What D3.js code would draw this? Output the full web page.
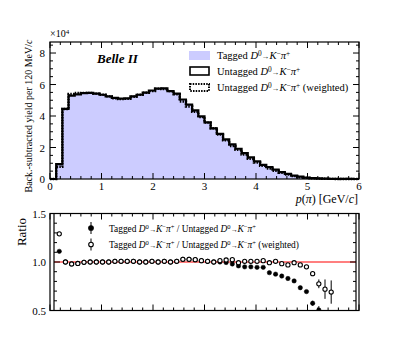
<!DOCTYPE html>
<html><head><meta charset="utf-8">
<script src="https://cdn.jsdelivr.net/npm/d3@7"></script>
<style>
body{margin:0;background:#fff}
text{font-family:"Liberation Serif","Times New Roman",serif;fill:#000}
</style>
</head><body>
<svg id="c" width="399" height="349"></svg>
<script>
// ---------- data ----------
const binLowEdges = [0,0.12,0.24,0.36,0.48,0.6,0.72,0.84,0.96,1.08,1.2,1.32,1.44,1.56,1.68,1.8,1.92,2.04,2.16,2.28,
  2.4,2.52,2.64,2.76,2.88,3.0,3.12,3.24,3.36,3.48,3.6,3.72,3.84,3.96,4.08,4.2,4.32,4.44,4.56,4.68,
  4.8,4.92,5.04,5.16,5.28,5.4,5.52,5.64,5.76,5.88];
const binWidth = 0.12;
// yields in units of 10^4
const tagged = [0,1.0,4.45,5.3,5.38,5.45,5.47,5.42,5.35,5.25,5.15,5.1,5.12,5.25,5.35,5.48,5.62,5.74,5.76,5.58,
  5.42,5.05,4.72,4.36,3.98,3.6,3.22,2.86,2.5,2.16,1.85,1.56,1.3,1.06,0.85,0.67,0.52,0.38,0.27,0.18,
  0.11,0.065,0.035,0.018,0.009,0.005,0.003,0.002,0.001,0];
const untagged = [0,0.95,4.45,5.3,5.38,5.45,5.47,5.42,5.35,5.25,5.15,5.1,5.12,5.25,5.35,5.48,5.62,5.74,5.76,5.58,
  5.42,5.05,4.72,4.36,3.98,3.6,3.22,2.86,2.52,2.2,1.92,1.64,1.37,1.12,0.9,0.75,0.59,0.44,0.33,0.22,
  0.15,0.09,0.06,0.035,0.02,0.012,0.007,0.004,0.002,0];
const untaggedWeighted = [0,0.78,4.45,5.4,5.46,5.47,5.47,5.42,5.35,5.25,5.12,5.07,5.09,5.22,5.35,5.48,5.58,5.74,5.72,5.58,
  5.38,4.92,4.6,4.26,3.93,3.58,3.22,2.82,2.45,2.1,1.86,1.55,1.28,1.05,0.84,0.67,0.52,0.39,0.28,0.18,
  0.115,0.07,0.04,0.023,0.012,0.007,0.004,0.002,0.001,0];
const ratioTagged = [null,1.11,1.0,0.98,0.985,0.997,1.0,1.0,1.0,1.0,1.007,1.007,1.007,1.007,1.0,1.0,1.007,1.0,1.007,1.0,
  1.007,1.028,1.028,1.024,1.014,1.007,1.0,1.0,0.995,0.98,0.96,0.95,0.95,0.945,0.945,0.89,0.875,0.855,0.83,0.805,
  0.735,0.695,0.575,0.505,null,null,null,null,null,null];
const ratioTaggedErr = [0,0.01,0.004,0.004,0.004,0.004,0.004,0.004,0.004,0.004,0.004,0.004,0.004,0.004,0.004,0.004,0.004,0.004,0.004,0.004,
  0.004,0.004,0.004,0.004,0.004,0.004,0.004,0.004,0.004,0.005,0.005,0.005,0.006,0.006,0.007,0.008,0.008,0.009,0.01,0.01,
  0.012,0.016,0.025,0.04,0,0,0,0,0,0];
const ratioWeighted = [null,1.29,1.0,0.98,0.985,0.997,1.0,1.0,1.0,1.0,1.007,1.007,1.007,1.007,1.0,1.0,1.007,1.0,1.007,1.0,
  1.007,1.028,1.028,1.024,1.014,1.007,1.0,1.014,1.021,1.024,0.993,1.007,1.007,1.007,1.014,0.993,1.007,0.983,0.97,0.993,
  0.97,0.95,0.88,0.775,0.72,0.69,null,null,null,null];
const ratioWeightedErr = [0,0.01,0.004,0.004,0.004,0.004,0.004,0.004,0.004,0.004,0.004,0.004,0.004,0.004,0.004,0.004,0.004,0.004,0.004,0.004,
  0.004,0.004,0.004,0.004,0.004,0.004,0.004,0.004,0.004,0.005,0.005,0.005,0.006,0.006,0.007,0.008,0.008,0.009,0.01,0.01,
  0.012,0.018,0.025,0.045,0.1,0.12,0,0,0,0];
const xTicks = [0,1,2,3,4,5,6];
const yTicksTop = [0,2,4,6,8];
const yTicksRatio = ["0.5","1.0","1.5"];
const legendTop = ["Tagged", "Untagged", "Untagged"];

// ---------- helpers ----------
const svg = d3.select("#c");
function rich(t, parts){
  let prevSup = false;
  parts.forEach(([s,k])=>{
    const sup = k==="s";
    const ts = t.append("tspan").text(s);
    if(k==="i") ts.attr("font-style","italic");
    if(k==="a") ts.attr("font-size","75%");
    if(sup){ ts.attr("font-size","70%"); if(!prevSup) ts.attr("dy","-0.45em"); }
    else if(prevSup){ ts.attr("dy", (0.45*0.7/(k==="a"?0.75:1))+"em"); }
    prevSup = sup;
  });
}
const decay = [["D","i"],["0","s"],["\u2192","a"],["K","i"],["\u2212","s"],["\u03c0","i"],["+","s"]];

// ---------- scales ----------
const x = d3.scaleLinear().domain([0,6]).range([50,359]);
const yT = d3.scaleLinear().domain([0,8.7]).range([179,42]);
const yR = d3.scaleLinear().domain([0.5,1.5]).range([310.5,213.5]);

// ---------- top panel ----------
const gTop = svg.append("g");
function stepPts(vals){
  const pts=[];
  vals.forEach((v,i)=>{ pts.push([binLowEdges[i],v]); pts.push([binLowEdges[i]+binWidth,v]); });
  return pts;
}
const area = d3.area().x(d=>x(d[0])).y0(yT(0)).y1(d=>yT(d[1]));
const line = d3.line().x(d=>x(d[0])).y(d=>yT(d[1]));
gTop.append("path").attr("d",area(stepPts(tagged))).attr("fill","#ccccff");
gTop.append("path").attr("d",line(stepPts(untagged))).attr("fill","none").attr("stroke","#000").attr("stroke-width",2.2);
gTop.append("path").attr("d",line(stepPts(untaggedWeighted))).attr("fill","none").attr("stroke","#000").attr("stroke-width",2.4).attr("stroke-dasharray","1.5,1.2");

gTop.append("rect").attr("x",50).attr("y",42).attr("width",309).attr("height",137).attr("fill","none").attr("stroke","#000").attr("stroke-width",1.2);
const minorX = d3.range(0,6.001,0.2);
minorX.forEach(v=>{
  const major = Math.abs(v-Math.round(v))<1e-6;
  const L = major?6:3;
  gTop.append("line").attr("x1",x(v)).attr("x2",x(v)).attr("y1",179).attr("y2",179-L).attr("stroke","#000");
  gTop.append("line").attr("x1",x(v)).attr("x2",x(v)).attr("y1",42).attr("y2",42+L).attr("stroke","#000");
});
d3.range(0,8.7,0.5).forEach(v=>{
  const major = Math.abs(v/2-Math.round(v/2))<1e-6;
  const L = major?6:3;
  gTop.append("line").attr("x1",50).attr("x2",50+L).attr("y1",yT(v)).attr("y2",yT(v)).attr("stroke","#000");
  gTop.append("line").attr("x1",359).attr("x2",359-L).attr("y1",yT(v)).attr("y2",yT(v)).attr("stroke","#000");
});
xTicks.forEach(v=>{
  gTop.append("text").attr("x",x(v)).attr("y",190).attr("text-anchor","middle").attr("font-size",11).text(v);
});
yTicksTop.forEach(v=>{
  gTop.append("text").attr("x",45).attr("y",yT(v)+4).attr("text-anchor","end").attr("font-size",11).text(v);
});
const e = gTop.append("text").attr("x",50).attr("y",37).attr("font-size",10);
e.append("tspan").text("\u00d710");
e.append("tspan").text("4").attr("font-size","70%").attr("dy","-0.45em");
const xt = gTop.append("text").attr("x",358).attr("y",203).attr("text-anchor","end").attr("font-size",12);
rich(xt,[["p","i"],["(","n"],["\u03c0","i"],[") [GeV/","n"],["c","i"],["]","n"]]);
const yt = gTop.append("text").attr("transform","translate(32,116) rotate(-90)").attr("text-anchor","middle").attr("font-size",10);
rich(yt,[["Back.-subtracted yield per 120 MeV/","n"],["c","i"]]);
gTop.append("text").attr("x",97).attr("y",63).attr("font-size",13).attr("font-weight","bold").attr("font-style","italic").text("Belle II");

gTop.append("rect").attr("x",189).attr("y",51).attr("width",21).attr("height",9).attr("fill","#ccccff");
gTop.append("rect").attr("x",190).attr("y",67).attr("width",19).attr("height",8).attr("fill","none").attr("stroke","#000").attr("stroke-width",1.6);
gTop.append("rect").attr("x",190).attr("y",84).attr("width",19).attr("height",7).attr("fill","none").attr("stroke","#000").attr("stroke-width",2).attr("stroke-dasharray","1.5,1.2");
const lt1 = gTop.append("text").attr("x",217).attr("y",59).attr("font-size",10.5);
rich(lt1,[[legendTop[0]+" ","n"]].concat(decay));
const lt2 = gTop.append("text").attr("x",217).attr("y",75).attr("font-size",10.5);
rich(lt2,[[legendTop[1]+" ","n"]].concat(decay));
const lt3 = gTop.append("text").attr("x",217).attr("y",91).attr("font-size",10.5);
rich(lt3,[[legendTop[2]+" ","n"]].concat(decay).concat([[" (weighted)","n"]]));

// ---------- ratio panel ----------
const bot = svg.append("g");
bot.append("defs").append("clipPath").attr("id","rc").append("rect").attr("x",54).attr("y",213.5).attr("width",302).attr("height",97);
bot.append("line").attr("x1",54).attr("x2",356).attr("y1",yR(1)).attr("y2",yR(1)).attr("stroke","#ff0000").attr("stroke-width",1.2);

function drawPts(vals, errs, filled){
  const g = bot.append("g").attr("clip-path","url(#rc)");
  vals.forEach((v,i)=>{
    if(v===null) return;
    const cx = x(binLowEdges[i]+binWidth/2);
    if(errs[i]>0.006){
      g.append("line").attr("x1",cx).attr("x2",cx).attr("y1",yR(v-errs[i])).attr("y2",yR(v+errs[i])).attr("stroke","#000").attr("stroke-width",1);
    }
    g.append("circle").attr("cx",cx).attr("cy",yR(v)).attr("r",filled?2.2:2.1)
      .attr("fill",filled?"#000":"#fff").attr("stroke","#000").attr("stroke-width",filled?0.5:1.1);
  });
}
drawPts(ratioTagged, ratioTaggedErr, true);
drawPts(ratioWeighted, ratioWeightedErr, false);

bot.append("rect").attr("x",50).attr("y",213.5).attr("width",309).attr("height",97).attr("fill","none").attr("stroke","#000").attr("stroke-width",1.2);
bot.append("line").attr("x1",54).attr("x2",54).attr("y1",213.5).attr("y2",310.5).attr("stroke","#000").attr("stroke-width",1.2);
bot.append("line").attr("x1",356).attr("x2",356).attr("y1",213.5).attr("y2",310.5).attr("stroke","#000").attr("stroke-width",1.2);
minorX.forEach(v=>{
  const major = Math.abs(v-Math.round(v))<1e-6;
  const L = major?6:3;
  bot.append("line").attr("x1",x(v)).attr("x2",x(v)).attr("y1",310.5).attr("y2",310.5-L).attr("stroke","#000");
  bot.append("line").attr("x1",x(v)).attr("x2",x(v)).attr("y1",213.5).attr("y2",213.5+L).attr("stroke","#000");
});
d3.range(0.5,1.501,0.1).forEach(v=>{
  const major = Math.abs(v*2-Math.round(v*2))<1e-6;
  const L = major?6:3;
  bot.append("line").attr("x1",54).attr("x2",54+L).attr("y1",yR(v)).attr("y2",yR(v)).attr("stroke","#000");
  bot.append("line").attr("x1",356).attr("x2",356-L).attr("y1",yR(v)).attr("y2",yR(v)).attr("stroke","#000");
});
yTicksRatio.forEach(s=>{
  bot.append("text").attr("x",46).attr("y",yR(+s)+4).attr("text-anchor","end").attr("font-size",11).text(s);
});
bot.append("text").attr("transform","translate(26,232) rotate(-90)").attr("text-anchor","middle").attr("font-size",13).text("Ratio");

[[228,true],[244.5,false]].forEach(([cy,f])=>{
  bot.append("line").attr("x1",91).attr("x2",91).attr("y1",cy-6).attr("y2",cy+6).attr("stroke","#000");
  bot.append("circle").attr("cx",91).attr("cy",cy).attr("r",2.3).attr("fill",f?"#000":"#fff").attr("stroke","#000").attr("stroke-width",1.1);
});
const rl1 = bot.append("text").attr("x",109).attr("y",231.5).attr("font-size",9.4);
rich(rl1,[["Tagged ","n"]].concat(decay).concat([[" / Untagged ","n"]]).concat(decay));
const rl2 = bot.append("text").attr("x",109).attr("y",248).attr("font-size",9.4);
rich(rl2,[["Tagged ","n"]].concat(decay).concat([[" / Untagged ","n"]]).concat(decay).concat([[" (weighted)","n"]]));
</script>
</body></html>
